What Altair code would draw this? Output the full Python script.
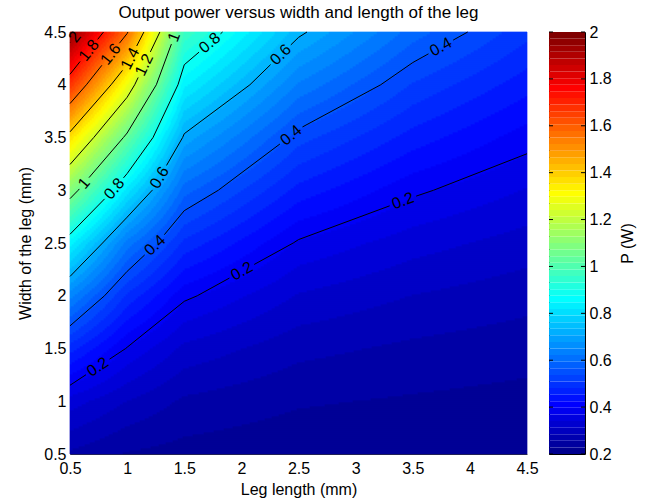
import altair as alt
import numpy as np
import pandas as pd

# ---------------- data ----------------
x_nodes = [0.5, 1.0, 1.5, 2.5, 3.5, 4.5]            # leg length (mm)
w_nodes = [0.5, 1.0, 1.5, 2.0, 2.5, 3.0, 3.5, 4.0, 4.5]  # leg width (mm)
# P (W) along each width column, one list per leg length
P_at_x05 = [0.06, 0.15, 0.315, 0.513, 0.751, 1.047, 1.36, 1.733, 2.07]
P_at_x10 = [0.03, 0.099, 0.197, 0.326, 0.486, 0.719, 0.975, 1.27, 1.61]
P_at_x15 = [0.02, 0.06, 0.124, 0.209, 0.324, 0.448, 0.589, 0.742, 0.895]
P_at_x25 = [0.01, 0.037, 0.077, 0.13, 0.194, 0.287, 0.382, 0.495, 0.612]
P_at_x35 = [0.008, 0.029, 0.059, 0.099, 0.148, 0.208, 0.285, 0.363, 0.451]
P_at_x45 = [0.006, 0.022, 0.047, 0.079, 0.118, 0.164, 0.216, 0.28, 0.345]

contour_levels = [0.2, 0.4, 0.6, 0.8, 1.0, 1.2, 1.4, 1.6, 1.8, 2.0]
label_levels = [2.0, 1.8, 1.6, 1.4, 1.2, 1.0, 1.0, 0.8, 0.8, 0.6, 0.6, 0.4, 0.4, 0.4, 0.2, 0.2, 0.2]
label_x = [0.56, 0.66, 0.82, 0.97, 1.13, 1.44, 0.62, 1.76, 0.85, 2.33, 1.25, 3.75, 2.42, 1.26, 3.41, 2.0, 0.74]
label_w = [4.44, 4.33, 4.32, 4.28, 4.2, 4.44, 3.07, 4.35, 3.05, 4.3, 3.14, 4.35, 3.54, 2.46, 2.91, 2.24, 1.33]

axis_ticks = [0.5, 1, 1.5, 2, 2.5, 3, 3.5, 4, 4.5]
colorbar_ticks = [0.2, 0.4, 0.6, 0.8, 1, 1.2, 1.4, 1.6, 1.8, 2]
jet_colors = ["#00008f", "#0000ff", "#00ffff", "#ffff00", "#ff0000", "#800000"]
jet_stops = [0, 7 / 63, 23 / 63, 39 / 63, 55 / 63, 1]

W, H = 457, 422
FONT = "Liberation Sans"
FILL_MIN, FILL_MAX = 0.0, 2.1
BAND = 0.2 / 6

# ---------------- filled contour (banded) ----------------
Z = np.array([P_at_x05, P_at_x10, P_at_x15, P_at_x25, P_at_x35, P_at_x45]).T  # (w, x)
nxf, nwf = 457, 211
xe = np.linspace(0.5, 4.5, nxf + 1)
xc = (xe[:-1] + xe[1:]) / 2
we = np.linspace(0.5, 4.5, nwf + 1)
wc = (we[:-1] + we[1:]) / 2
rows = np.array([np.interp(xc, x_nodes, Z[j]) for j in range(len(w_nodes))])
F = np.array([np.interp(wc, w_nodes, rows[:, i]) for i in range(nxf)]).T
B = np.floor(F / BAND + 1e-9).astype(int)
recs = []
for r in range(nwf):
    row = B[r]
    s = 0
    for i in range(1, nxf + 1):
        if i == nxf or row[i] != row[s]:
            recs.append(dict(x=xe[s], x2=xe[i], w=we[r], w2=we[r + 1], v=(row[s] + 0.5) * BAND))
            s = i
df_fill = pd.DataFrame(recs)

# ---------------- contour lines (marching squares) ----------------
def to_px(x, w):
    return (x - 0.5) / 4 * W, (w - 0.5) / 4 * H

segs = []
for c in contour_levels:
    for j in range(len(w_nodes) - 1):
        for i in range(len(x_nodes) - 1):
            cs = [(x_nodes[i], w_nodes[j], Z[j, i]), (x_nodes[i + 1], w_nodes[j], Z[j, i + 1]),
                  (x_nodes[i + 1], w_nodes[j + 1], Z[j + 1, i + 1]), (x_nodes[i], w_nodes[j + 1], Z[j + 1, i])]
            pts = []
            for k in range(4):
                a, b = cs[k], cs[(k + 1) % 4]
                if (a[2] < c) != (b[2] < c):
                    t = (c - a[2]) / (b[2] - a[2])
                    pts.append((a[0] + t * (b[0] - a[0]), a[1] + t * (b[1] - a[1])))
            if len(pts) == 2:
                segs.append([c, pts[0], pts[1]])
            elif len(pts) == 4:
                segs.append([c, pts[0], pts[1]])
                segs.append([c, pts[2], pts[3]])

def fmt(v):
    return ("%g" % round(v, 2))

labels = []
for lv, lx, lw in zip(label_levels, label_x, label_w):
    P = np.array(to_px(lx, lw))
    best = None
    for c, a, b in segs:
        if abs(c - lv) > 1e-9:
            continue
        A = np.array(to_px(*a)); Bp = np.array(to_px(*b))
        d = Bp - A
        L2 = d @ d
        t = 0 if L2 == 0 else max(0, min(1, (P - A) @ d / L2))
        q = A + t * d
        dist = np.linalg.norm(P - q)
        if best is None or dist < best[0]:
            best = (dist, q, d)
    _, q, d = best
    if d[0] < 0:
        d = -d
    ang_ccw = np.degrees(np.arctan2(d[1], d[0]))
    txt = fmt(lv)
    wid = sum(8.9 if ch.isdigit() else 4.45 for ch in txt)
    labels.append(dict(lv=lv, px=q[0], py=q[1], x=0.5 + q[0] / W * 4, w=0.5 + q[1] / H * 4,
                       ang=(-ang_ccw) % 360, lab=txt, r=wid / 2 + 3))

seg_rows = []
for c, a, b in segs:
    A = np.array(to_px(*a)); Bp = np.array(to_px(*b))
    pieces = [(0.0, 1.0)]
    for lb in labels:
        if abs(lb["lv"] - c) > 1e-9:
            continue
        C = np.array([lb["px"], lb["py"]]); d = Bp - A; f = A - C
        qa = d @ d; qb = 2 * f @ d; qc = f @ f - lb["r"] ** 2
        disc = qb * qb - 4 * qa * qc
        if qa == 0 or disc <= 0:
            continue
        t1 = (-qb - np.sqrt(disc)) / (2 * qa); t2 = (-qb + np.sqrt(disc)) / (2 * qa)
        newp = []
        for s0, s1 in pieces:
            if t2 <= s0 or t1 >= s1:
                newp.append((s0, s1)); continue
            if t1 > s0:
                newp.append((s0, t1))
            if t2 < s1:
                newp.append((t2, s1))
        pieces = newp
    for s0, s1 in pieces:
        if s1 - s0 < 1e-6:
            continue
        seg_rows.append(dict(xa=a[0] + s0 * (b[0] - a[0]), wa=a[1] + s0 * (b[1] - a[1]),
                             xb=a[0] + s1 * (b[0] - a[0]), wb=a[1] + s1 * (b[1] - a[1])))
df_seg = pd.DataFrame(seg_rows)
df_lab = pd.DataFrame(labels)[["x", "w", "ang", "lab"]]

# ---------------- colorbar data ----------------
nb = 64
d_cb = (2.0 - 0.2) / nb
df_cb = pd.DataFrame(dict(lo=[0.2 + i * d_cb for i in range(nb)],
                          hi=[0.2 + (i + 1) * d_cb for i in range(nb)],
                          mid=[0.2 + (i + 0.5) * d_cb for i in range(nb)]))
df_cbt = pd.DataFrame(dict(t=colorbar_ticks))

# ---------------- scales / axes ----------------
fill_scale = alt.Scale(domain=[FILL_MIN + f * (FILL_MAX - FILL_MIN) for f in jet_stops],
                       range=jet_colors, interpolate="rgb")
lo0, hi0 = 0.2 + d_cb / 2, 2.0 - d_cb / 2
cb_scale = alt.Scale(domain=[lo0 + f * (hi0 - lo0) for f in jet_stops], range=jet_colors, interpolate="rgb")
xscale = alt.Scale(domain=[0.5, 4.5], nice=False, zero=False)
yscale = alt.Scale(domain=[0.5, 4.5], nice=False, zero=False)
xaxis = alt.Axis(values=axis_ticks, format="~g", labelFlush=False, labelOverlap=False, ticks=False,
                 labelPadding=6, titlePadding=5, grid=False, domainColor="#333")
yaxis = alt.Axis(values=axis_ticks, format="~g", labelFlush=False, labelOverlap=False, ticks=False,
                 labelPadding=4, titlePadding=10, grid=False, domainColor="#333")
XT, YT = "Leg length (mm)", "Width of the leg (mm)"

fill = alt.Chart(df_fill).mark_rect(strokeWidth=0.7).encode(
    x=alt.X("x:Q", scale=xscale, axis=xaxis, title=XT), x2="x2:Q",
    y=alt.Y("w:Q", scale=yscale, axis=yaxis, title=YT), y2="w2:Q",
    color=alt.Color("v:Q", scale=fill_scale, legend=None),
    stroke=alt.Stroke("v:Q", scale=fill_scale, legend=None),
)
lines = alt.Chart(df_seg).mark_rule(color="black", strokeWidth=1).encode(
    x=alt.X("xa:Q", scale=xscale, axis=xaxis, title=XT), x2="xb:Q",
    y=alt.Y("wa:Q", scale=yscale, axis=yaxis, title=YT), y2="wb:Q",
)
texts = alt.Chart(df_lab).mark_text(font=FONT, fontSize=16, color="black", align="center",
                                    baseline="middle").encode(
    x=alt.X("x:Q", scale=xscale, axis=xaxis, title=XT),
    y=alt.Y("w:Q", scale=yscale, axis=yaxis, title=YT),
    text="lab:N", angle=alt.Angle("ang:Q", scale=None),
)
main = alt.layer(fill, lines, texts).properties(
    width=W, height=H,
    title=alt.Title("Output power versus width and length of the leg", font=FONT, fontSize=17,
                    fontWeight="normal", anchor="middle", offset=2, color="black"),
)

cb_axis = alt.Axis(orient="right", values=colorbar_ticks, format="~g", ticks=False, labelFlush=False,
                   labelOverlap=False, labelPadding=4, titlePadding=8, titleAngle=270, titleBaseline="top",
                   domain=False, grid=False)
cb_y = alt.Scale(domain=[0.2, 2.0], nice=False, zero=False)
cbar_rect = alt.Chart(df_cb).mark_rect().encode(
    y=alt.Y("lo:Q", scale=cb_y, axis=cb_axis, title="P (W)"), y2="hi:Q",
    x=alt.value(0), x2=alt.value(36),
    color=alt.Color("mid:Q", scale=cb_scale, legend=None),
)
tick_l = alt.Chart(df_cbt).mark_rule(color="black").encode(
    y=alt.Y("t:Q", scale=cb_y, axis=cb_axis, title="P (W)"), x=alt.value(0), x2=alt.value(4))
tick_r = alt.Chart(df_cbt).mark_rule(color="black").encode(
    y=alt.Y("t:Q", scale=cb_y, axis=cb_axis, title="P (W)"), x=alt.value(32), x2=alt.value(36))
cbar = alt.layer(cbar_rect, tick_l, tick_r).properties(
    width=36, height=H, view=alt.ViewBackground(stroke="black", strokeWidth=1))

chart = alt.hconcat(main, cbar, spacing=9).resolve_scale(
    color="independent", stroke="independent", y="independent"
).configure_view(stroke=None).configure_axis(
    labelFont=FONT, labelFontSize=16, labelColor="black",
    titleFont=FONT, titleFontSize=16, titleFontWeight="normal", titleColor="black",
).properties(padding={"left": 17, "top": 4, "right": 5, "bottom": 5}, background="white")

chart.save("out.html", embed_options={"renderer": "svg", "actions": False})
